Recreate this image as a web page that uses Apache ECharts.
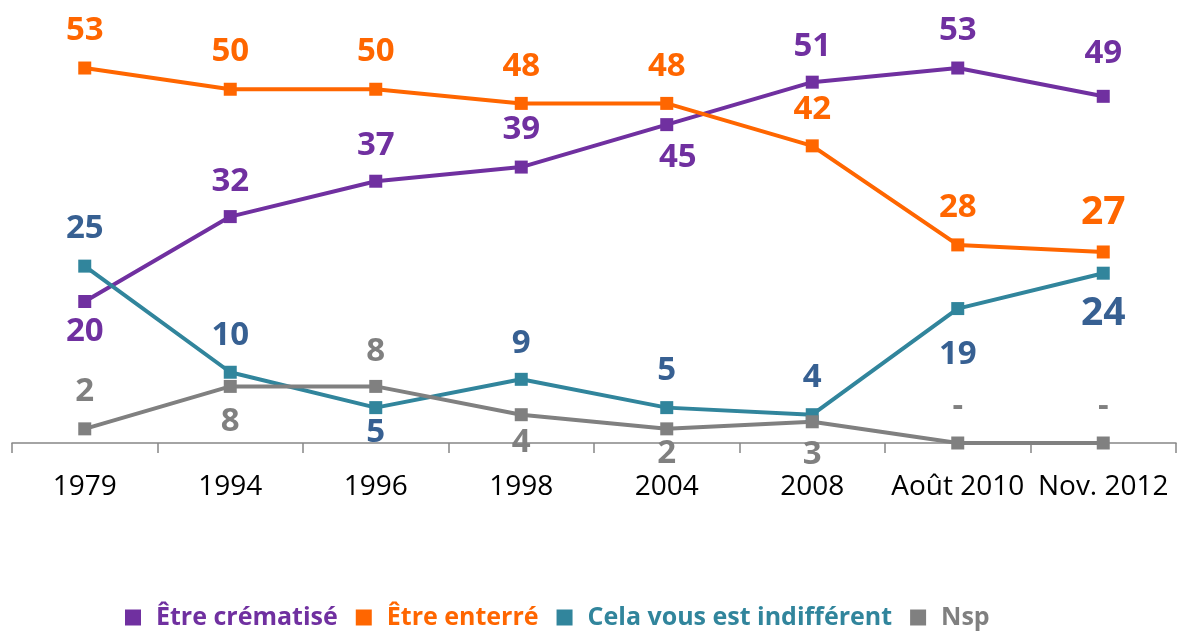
<!DOCTYPE html>
<html><head><meta charset="utf-8">
<script src="https://cdn.jsdelivr.net/npm/echarts@6/dist/echarts.min.js"></script>
<style>html,body{margin:0;padding:0;background:#fff}#c{width:1180px;height:632px}</style>
</head><body><div id="c"></div>
<script>
const categories = ['1979','1994','1996','1998','2004','2008','Août 2010','Nov. 2012'];
const cremation = [20,32,37,39,45,51,53,49];
const enterre = [53,50,50,48,48,42,28,27];
const indifferent = [25,10,5,9,5,4,19,24];
const nsp = [2,8,8,4,2,3,0,0];
const seriesNames = ['Être crématisé','Être enterré','Cela vous est indifférent','Nsp'];
// value-label placement (pixel offsets from each point, kept apart from the values)
const cremDy = [30,-35,-36,-37,33,-36,-37,-43];
const cremDx = [0,0,0,0,11,0,0,0];
const entDy = [-37,-38,-38,-37,-37,-36,-37,-39];
const indDy = [-38,-37,25,-36,-37,-37,46,41];
const nspDy = [-37,35,-35,28,25,33,-36,-36];
const bigLabel = [false,false,false,false,false,false,false,true];

const FONT = '"Open Sans"';
const colors = { crem:'#7030A0', ent:'#FF6600', ind:'#31859C', indLbl:'#376092', nsp:'#808080' };

function build(values, dys, bigEnabled, dxs) {
  return values.map((v, i) => {
    const big = bigEnabled && bigLabel[i];
    return {
      value: v,
      label: {
        offset: [dxs ? dxs[i] : 0, dys[i]],
        fontSize: big ? 39 : 33
      }
    };
  });
}

function mkSeries(name, data, lineColor, labelColor) {
  return {
    name, type: 'line', data,
    symbol: 'rect', symbolSize: 13,
    lineStyle: { width: 4, color: lineColor },
    itemStyle: { color: lineColor },
    label: {
      show: true, position: 'inside', color: labelColor,
      fontFamily: FONT, fontWeight: 'bold', fontSize: 33,
      formatter: p => (p.value === 0 ? '-' : String(p.value))
    },
    emphasis: { disabled: true },
    animation: false
  };
}

const chart = echarts.init(document.getElementById('c'));
chart.setOption({
  backgroundColor: '#fff',
  animation: false,
  grid: { left: 12, right: 4, top: 18.5, bottom: 189, containLabel: false },
  xAxis: {
    type: 'category', data: categories, boundaryGap: true,
    axisLine: { lineStyle: { color: '#868686', width: 1.5 } },
    axisTick: { show: true, length: 10, lineStyle: { color: '#868686', width: 1.5 } },
    axisLabel: { color: '#000', fontFamily: FONT, fontSize: 28, margin: 30, interval: 0 }
  },
  yAxis: { type: 'value', min: 0, max: 60, show: false, splitLine: { show: false } },
  legend: {
    left: 120, top: 600,
    icon: 'rect', itemWidth: 16, itemHeight: 16, itemGap: 18,
    textStyle: { fontFamily: FONT, fontWeight: 'bold', fontSize: 25, padding: [0,0,0,10] },
    data: [
      { name: seriesNames[0], textStyle: { color: colors.crem } },
      { name: seriesNames[1], textStyle: { color: colors.ent } },
      { name: seriesNames[2], textStyle: { color: colors.ind } },
      { name: seriesNames[3], textStyle: { color: colors.nsp } }
    ]
  },
  series: [
    mkSeries(seriesNames[0], build(cremation, cremDy, false, cremDx), colors.crem, colors.crem),
    mkSeries(seriesNames[1], build(enterre, entDy, true), colors.ent, colors.ent),
    mkSeries(seriesNames[2], build(indifferent, indDy, true), colors.ind, colors.indLbl),
    mkSeries(seriesNames[3], build(nsp, nspDy, false), colors.nsp, colors.nsp)
  ]
});
</script></body></html>
